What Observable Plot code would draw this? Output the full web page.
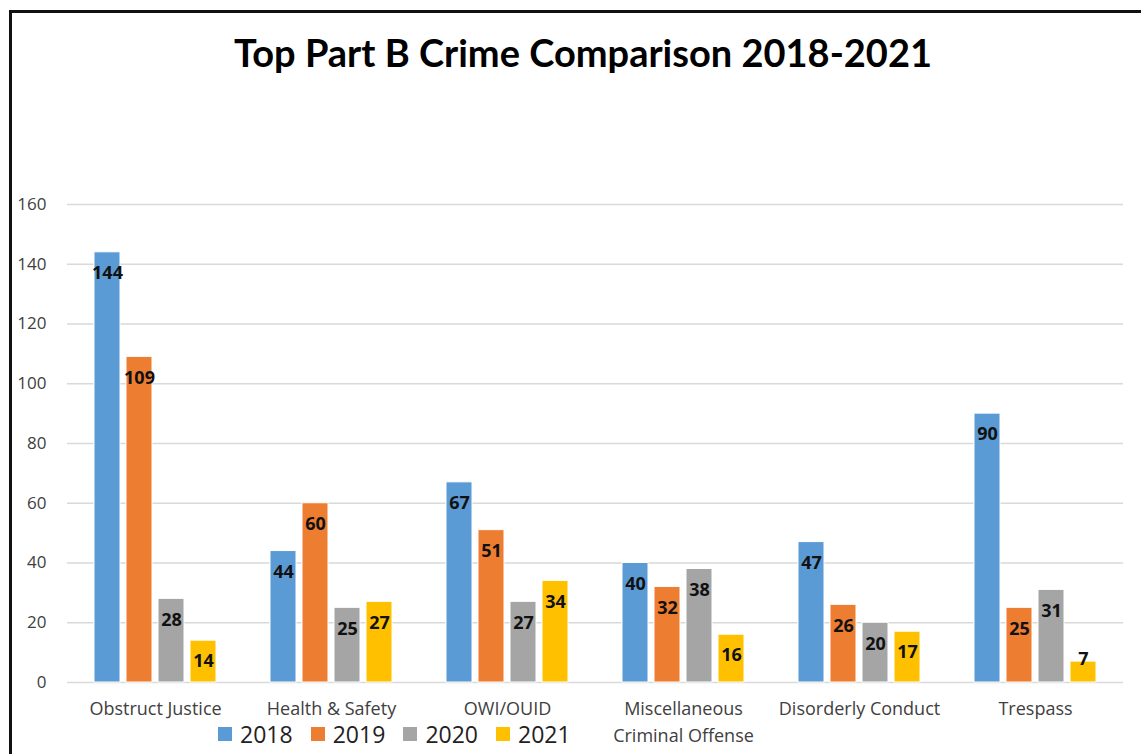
<!DOCTYPE html>
<html>
<head>
<meta charset="utf-8">
<script src="https://cdn.jsdelivr.net/npm/d3@7"></script>
<script src="https://cdn.jsdelivr.net/npm/@observablehq/plot@0.6"></script>
<style>
  html, body { margin: 0; padding: 0; background: #fff; }
  #wrap { position: relative; width: 1141px; height: 754px; overflow: hidden; font-family: "Open Sans", sans-serif; }
  #border { position: absolute; left: 9px; top: 10px; width: 1200px; height: 800px; border-left: 3px solid #111; border-top: 3px solid #111; box-sizing: border-box; }
  #title { position: absolute; left: 0; width: 1166px; top: 29px; text-align: center; font-family: Lato, sans-serif; font-weight: bold; font-size: 38px; color: #000; }
  #chart { position: absolute; left: 0; top: 180px; }
  #legend { position: absolute; left: 218px; top: 718px; display: flex; }
  .item { display: flex; align-items: center; width: 92.7px; }
  .sw { width: 14px; height: 14px; margin-right: 8px; }
  .lab { font-size: 23px; color: #222; line-height: 32px; }
</style>
</head>
<body>
<div id="wrap">
  <div id="border"></div>
  <div id="title">Top Part B Crime Comparison 2018-2021</div>
  <div id="chart"></div>
  <div id="legend"></div>
</div>
<script>
const categories = ["Obstruct Justice", "Health & Safety", "OWI/OUID", "Miscellaneous\nCriminal Offense", "Disorderly Conduct", "Trespass"];
const years = ["2018", "2019", "2020", "2021"];
const values2018 = [144, 44, 67, 40, 47, 90];
const values2019 = [109, 60, 51, 32, 26, 25];
const values2020 = [28, 25, 27, 38, 20, 31];
const values2021 = [14, 27, 34, 16, 17, 7];
const yearColors = ["#5B9BD5", "#ED7D31", "#A5A5A5", "#FFC000"];
const yTicks = [0, 20, 40, 60, 80, 100, 120, 140, 160];

const series = [values2018, values2019, values2020, values2021];
const data = [];
categories.forEach((c, i) => {
  years.forEach((y, j) => data.push({category: c, year: y, value: series[j][i]}));
});

const chart = Plot.plot({
  width: 1141,
  height: 574,
  marginTop: 24,
  marginBottom: 72,
  marginLeft: 64,
  marginRight: 16,
  style: {fontFamily: "'Open Sans', sans-serif", background: "transparent"},
  fx: {domain: categories, padding: 0, label: null, axis: null},
  x: {domain: years, axis: null, paddingInner: 0.2, paddingOuter: 0.85},
  y: {domain: [0, 160], label: null, axis: null},
  color: {domain: years, range: yearColors},
  marks: [
    Plot.gridY(yTicks, {stroke: "#d9d9d9", strokeOpacity: 1, strokeWidth: 1.5}),
    Plot.axisY(yTicks, {tickSize: 0, tickPadding: 21, fontSize: 17, fill: "#404040", label: null}),
    Plot.axisFx({anchor: "bottom", tickSize: 0, tickPadding: 13, fontSize: 18, lineHeight: 1.5, fill: "#404040", label: null}),
    Plot.barY(data, {fx: "category", x: "year", y: "value", fill: "year", stroke: "white", strokeWidth: 1}),
    Plot.text(data.filter(d => d.value >= 10), {fx: "category", x: "year", y: "value", text: d => String(d.value), dy: 21, fontWeight: "bold", fontSize: 18, fill: "#111"}),
    Plot.text(data.filter(d => d.value < 10), {fx: "category", x: "year", y: "value", text: d => String(d.value), dy: -2, fontWeight: "bold", fontSize: 18, fill: "#111"})
  ]
});
document.getElementById("chart").appendChild(chart);

const legend = document.getElementById("legend");
years.forEach((y, j) => {
  const item = document.createElement("div");
  item.className = "item";
  const sw = document.createElement("div");
  sw.className = "sw";
  sw.style.background = yearColors[j];
  const lab = document.createElement("div");
  lab.className = "lab";
  lab.textContent = y;
  item.appendChild(sw);
  item.appendChild(lab);
  legend.appendChild(item);
});
</script>
</body>
</html>
